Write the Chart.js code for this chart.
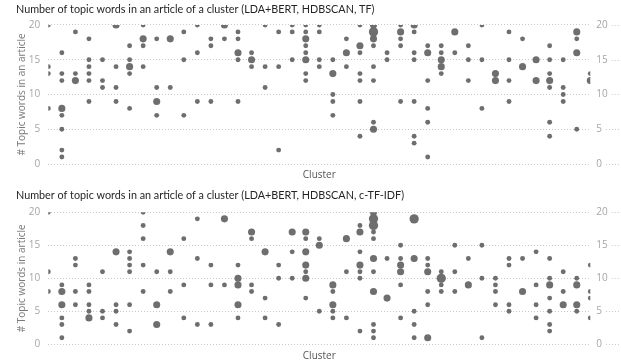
<!DOCTYPE html>
<html>
<head>
<meta charset="utf-8">
<script src="https://cdn.jsdelivr.net/npm/chart.js@4.4.1/dist/chart.umd.min.js"></script>
<style>
  html, body { margin: 0; padding: 0; background: #ffffff; }
  .panel { position: absolute; left: 0; width: 621px; height: 181px; }
  #panelTf { top: 0; }
  #panelCtfidf { top: 181px; }
</style>
</head>
<body>
<div class="panel" id="panelTf"><canvas id="chartTf" width="621" height="181"></canvas></div>
<div class="panel" id="panelCtfidf"><canvas id="chartCtfidf" width="621" height="181"></canvas></div>
<script>
// Cluster positions along the x axis (labels are not shown on the axis)
const clusterIds = Array.from({ length: 41 }, (_, i) => i);

// Y axis ticks
const yTicks = [0, 5, 10, 15, 20];

// TF: distinct topic-word counts per cluster, and how many articles share each count
const tfWords = [
  [20, 14, 13, 8],
  [16, 13, 12, 8, 7, 5, 2, 1],
  [19, 13, 12],
  [18, 15, 14, 13, 12, 9],
  [15, 12, 11],
  [20, 14, 11, 9],
  [17, 15, 14, 13, 8],
  [20, 18, 17, 14],
  [18, 11, 9, 7],
  [18, 11],
  [19, 15, 7],
  [20, 16, 9],
  [18, 17, 9],
  [20, 18],
  [19, 18, 16, 15, 9],
  [16, 15, 14],
  [20, 14, 11],
  [19, 14, 2],
  [20, 19, 15],
  [20, 19, 18, 17, 16, 15, 13, 12],
  [20, 19, 15, 14],
  [15, 13, 10, 9, 7],
  [18, 16, 14],
  [20, 17, 16, 13, 12, 9, 4],
  [20, 19, 18, 17, 14, 12, 6, 5],
  [16, 15],
  [20, 19, 18, 17, 9],
  [20, 19, 16, 15, 9, 4, 3],
  [17, 16, 12, 8, 6, 1],
  [17, 16, 15, 14, 13],
  [19, 16],
  [17, 15, 12],
  [20, 15, 8],
  [13, 12],
  [19, 15, 12, 9],
  [18, 14],
  [15, 12],
  [17, 15, 13, 12, 11, 6, 4],
  [15, 11, 10, 9],
  [19, 18, 16, 5],
  [13, 12]
];
const tfArticles = [
  [1, 1, 1, 1],
  [1, 1, 1, 2, 1, 1, 1, 1],
  [1, 1, 2],
  [1, 1, 1, 1, 1, 1],
  [1, 1, 1],
  [2, 1, 1, 1],
  [1, 1, 2, 1, 1],
  [1, 2, 1, 1],
  [1, 1, 2, 1],
  [2, 1],
  [1, 1, 1],
  [1, 1, 1],
  [1, 1, 1],
  [2, 1],
  [1, 1, 2, 1, 1],
  [1, 2, 1],
  [1, 1, 1],
  [1, 1, 1],
  [1, 1, 1],
  [1, 1, 2, 1, 1, 2, 1, 1],
  [1, 1, 1, 1],
  [1, 2, 1, 1, 1],
  [1, 2, 1],
  [1, 2, 1, 1, 1, 1, 1],
  [2, 3, 2, 1, 1, 1, 1, 2],
  [1, 1],
  [1, 2, 1, 1, 1],
  [2, 1, 1, 1, 1, 1, 1],
  [1, 2, 1, 1, 1, 1],
  [1, 1, 2, 2, 1],
  [2, 1],
  [1, 1, 1],
  [1, 1, 1],
  [2, 2],
  [1, 1, 1, 1],
  [1, 2],
  [2, 2],
  [1, 1, 1, 2, 1, 1, 1],
  [1, 1, 1, 1],
  [2, 1, 2, 1],
  [1, 2]
];

// c-TF-IDF: distinct topic-word counts per cluster, and articles per count
const ctfidfWords = [
  [20, 11, 8],
  [9, 8, 6, 4, 3, 1],
  [13, 12, 8, 6],
  [9, 8, 6, 5, 4],
  [11, 5, 4],
  [14, 6, 5, 3],
  [14, 13, 12, 11, 6, 2],
  [20, 18, 16, 12, 8],
  [11, 6, 3],
  [14, 11, 8],
  [16, 9, 4],
  [19, 13, 3],
  [12, 9, 3],
  [19, 9],
  [12, 10, 9, 6, 4],
  [17, 16, 9, 8],
  [14, 7, 4],
  [12, 10, 3],
  [17, 14, 10],
  [17, 16, 14, 12, 11, 10, 7],
  [16, 15, 5],
  [9, 8, 6, 5, 4],
  [16, 11, 4],
  [18, 17, 14, 12, 11, 10, 2],
  [20, 19, 18, 17, 16, 13, 11, 8, 3, 2, 1],
  [13, 7],
  [15, 13, 12, 11, 9, 4],
  [19, 13, 5, 3, 1],
  [13, 12, 11, 8, 6, 1],
  [11, 10, 9, 8],
  [15, 11, 8],
  [13, 9],
  [15, 10, 1],
  [10, 9, 8, 6],
  [13, 12, 6, 5],
  [13, 8],
  [14, 9, 6, 4],
  [13, 10, 9, 7, 5, 3, 2],
  [11, 8, 6],
  [10, 9, 6, 5],
  [12, 8, 7, 4]
];
const ctfidfArticles = [
  [1, 1, 1],
  [1, 2, 2, 1, 1, 1],
  [1, 1, 1, 1],
  [1, 1, 1, 1, 2],
  [1, 1, 1],
  [2, 1, 1, 1],
  [1, 1, 1, 1, 1, 1],
  [1, 1, 1, 1, 1],
  [1, 2, 2],
  [2, 1, 1],
  [1, 1, 1],
  [1, 1, 1],
  [1, 1, 1],
  [2, 1],
  [1, 2, 2, 2, 1],
  [2, 1, 1, 1],
  [2, 1, 1],
  [1, 1, 1],
  [2, 1, 1],
  [2, 1, 2, 2, 1, 2, 1],
  [1, 2, 1],
  [2, 1, 2, 1, 1],
  [2, 1, 1],
  [1, 2, 1, 2, 1, 1, 1],
  [2, 3, 3, 1, 1, 2, 1, 2, 1, 1, 1],
  [1, 2],
  [1, 1, 2, 2, 1, 1],
  [3, 2, 1, 1, 1],
  [1, 1, 2, 1, 1, 2],
  [1, 3, 1, 1],
  [1, 1, 1],
  [1, 2],
  [1, 1, 1],
  [1, 1, 1, 1],
  [1, 1, 1, 1],
  [1, 2],
  [1, 1, 1, 1],
  [1, 1, 2, 1, 1, 1, 1],
  [1, 1, 2],
  [1, 2, 2, 1],
  [1, 1, 1, 1]
];

const DOT_COLOR = '#6e6e6e';
const GRID_COLOR = '#c9c9c9';
const TICK_COLOR = '#a6a6a6';
const AXIS_TITLE_COLOR = '#7a7a7a';
const TITLE_COLOR = '#252525';
const UI_FONT = "'Open Sans', 'Noto Sans', sans-serif";
const TITLE_FONT = "Lato, 'Noto Sans', sans-serif";

// Bubble radius grows with the number of articles at that point
function radiusFor(count) {
  return 1.35 + 1.1 * count;
}

function buildPoints(words, articles) {
  const pts = [];
  clusterIds.forEach((cid, i) => {
    words[i].forEach((w, j) => {
      pts.push({ x: cid, y: w, r: radiusFor(articles[i][j]) });
    });
  });
  return pts;
}

// Power BI style: dotted gridlines continue past the right-hand tick labels
const gridTail = {
  id: 'gridTail',
  beforeDatasetsDraw(chart) {
    const scale = chart.scales.y2;
    const ctx = chart.ctx;
    ctx.save();
    ctx.strokeStyle = GRID_COLOR;
    ctx.lineWidth = 1;
    ctx.setLineDash([1, 2]);
    ctx.font = '10px ' + UI_FONT;
    scale.ticks.forEach(t => {
      const py = Math.round(scale.getPixelForValue(t.value)) + 0.5;
      const lx = chart.chartArea.right + 6 + ctx.measureText(String(t.value)).width + 4;
      ctx.beginPath();
      ctx.moveTo(lx, py);
      ctx.lineTo(chart.width, py);
      ctx.stroke();
    });
    ctx.restore();
  }
};

function makePanel(canvasId, titleText, yTitleText, words, articles, geo) {
  const plotLeft = 48.3, plotRight = 590.3;
  return new Chart(document.getElementById(canvasId), {
    type: 'bubble',
    data: {
      datasets: [{
        data: buildPoints(words, articles),
        backgroundColor: DOT_COLOR,
        borderWidth: 0,
        hoverBorderWidth: 0,
        clip: 0,
        yAxisID: 'y'
      }]
    },
    options: {
      responsive: false,
      animation: false,
      events: [],
      layout: { padding: { left: 16, right: 0, top: 0, bottom: 0 } },
      plugins: {
        legend: { display: false },
        tooltip: { enabled: false },
        title: {
          display: true,
          text: titleText,
          align: 'start',
          color: TITLE_COLOR,
          font: { family: TITLE_FONT, size: 10.8, weight: 'normal', lineHeight: 1.2 },
          padding: { top: geo.titleTop, bottom: geo.titleBottom }
        }
      },
      scales: {
        x: {
          type: 'linear',
          min: clusterIds[0],
          max: clusterIds[clusterIds.length - 1],
          grid: { display: false },
          border: { display: false },
          ticks: { display: false },
          title: {
            display: true,
            text: 'Cluster',
            color: '#555555',
            font: { family: UI_FONT, size: 10, lineHeight: 1.2 },
            padding: { top: 0, bottom: geo.xTitleBottom }
          },
          afterFit(scale) { scale.height = geo.xAxisHeight; }
        },
        y: {
          type: 'linear',
          position: 'left',
          min: yTicks[0],
          max: yTicks[yTicks.length - 1],
          afterBuildTicks(scale) { scale.ticks = yTicks.map(v => ({ value: v })); },
          grid: { color: GRID_COLOR, drawTicks: false, lineWidth: 1 },
          border: { display: false, dash: [1, 2] },
          ticks: {
            color: TICK_COLOR,
            padding: 8,
            font: { family: UI_FONT, size: 10 }
          },
          title: {
            display: true,
            text: yTitleText,
            color: AXIS_TITLE_COLOR,
            font: { family: UI_FONT, size: 10, lineHeight: 1.2 },
            padding: { top: 0, bottom: 0 }
          },
          afterFit(scale) { scale.width = plotLeft - 16; }
        },
        y2: {
          type: 'linear',
          position: 'right',
          min: yTicks[0],
          max: yTicks[yTicks.length - 1],
          afterBuildTicks(scale) { scale.ticks = yTicks.map(v => ({ value: v })); },
          grid: { display: false, drawTicks: false },
          border: { display: false },
          ticks: {
            color: TICK_COLOR,
            padding: 6,
            font: { family: UI_FONT, size: 10 }
          },
          afterFit(scale) { scale.width = 621 - plotRight; }
        }
      }
    },
    plugins: [gridTail]
  });
}

makePanel('chartTf',
  'Number of topic words in an article of a cluster (LDA+BERT, HDBSCAN, TF)',
  '# Topic words in an article',
  tfWords, tfArticles,
  { titleTop: 3.5, titleBottom: 8.5, xAxisHeight: 17, xTitleBottom: 0 });

makePanel('chartCtfidf',
  'Number of topic words in an article of a cluster (LDA+BERT, HDBSCAN, c-TF-IDF)',
  '# Topic words in article',
  ctfidfWords, ctfidfArticles,
  { titleTop: 8.5, titleBottom: 9.8, xAxisHeight: 17.7, xTitleBottom: 0 });
</script>
</body>
</html>
